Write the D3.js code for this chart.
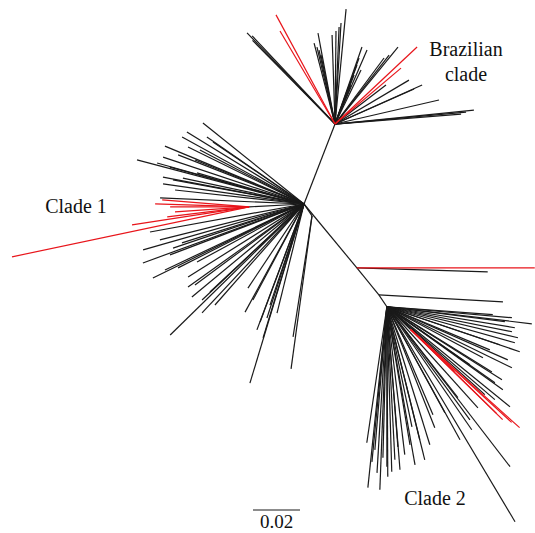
<!DOCTYPE html>
<html>
<head>
<meta charset="utf-8">
<script src="https://cdn.jsdelivr.net/npm/d3@7"></script>
<style>
  html, body { margin: 0; padding: 0; background: #fff; }
  #chart { width: 535px; height: 533px; }
</style>
</head>
<body>
<div id="chart"></div>
<script>
// internal nodes: [id, parent, angle (deg, clockwise from east), branch length]
const internalNodes = [
  ["B", "R", -68.8, 0.0365],
  ["S1", "R", 177, 0.0234],
  ["S2", "R", 56, 0.0061],
  ["N1", "R", 50.4, 0.0353],
  ["N2", "N1", 50.8, 0.0148],
  ["H2", "N2", 56, 0.0061],
  ["H2r", "H2", 43.8, 0.0140]
];

// leaves: [angle, branch length, group]  group 1 = highlighted isolates
const brazilianLeaves = [
  [-134.0, 0.0539, 0], [-133.2, 0.0515, 0], [-134.6, 0.0500, 0],
  [-118.4, 0.0528, 1], [-120.6, 0.0460, 1],
  [-104.5, 0.0356, 0], [-100.6, 0.0394, 0], [-103.2, 0.0336, 0], [-101.5, 0.0300, 0], [-102.2, 0.0322, 0],
  [-91.9, 0.0379, 0], [-89.4, 0.0396, 0], [-87.6, 0.0413, 0], [-86.6, 0.0431, 0], [-84.5, 0.0491, 0],
  [-70.7, 0.0347, 0], [-66.6, 0.0343, 0], [-68.8, 0.0224, 0], [-69.6, 0.0268, 0], [-70.0, 0.0299, 0],
  [-67.7, 0.0179, 0], [-64.3, 0.0255, 0],
  [-53.4, 0.0350, 0], [-51.9, 0.0373, 0], [-50.7, 0.0423, 0],
  [-43.2, 0.0479, 1], [-40.3, 0.0368, 1],
  [-37.4, 0.0273, 0], [-30.7, 0.0366, 0], [-24.1, 0.0406, 0], [-23.9, 0.0368, 0],
  [-13.0, 0.0454, 0], [-5.75, 0.0594, 0], [-5.2, 0.0560, 0], [-4.5, 0.0538, 0]
];

const clade1Leaves = [
  [-141.3, 0.0551, 0], [-148.4, 0.0585, 0], [-151.2, 0.0592, 0], [-145.4, 0.0502, 0], [-145.7, 0.0469, 0],
  [-157.4, 0.0641, 0], [-153.8, 0.0550, 0], [-165.2, 0.0735, 0], [-161.6, 0.0632, 0], [-158.7, 0.0575, 0],
  [-164.4, 0.0649, 0], [-169.2, 0.0611, 0], [-171.9, 0.0606, 0], [-169.6, 0.0567, 0], [-167.9, 0.0527, 0],
  [-163.8, 0.0474, 0], [-177.6, 0.0613, 0], [-164.6, 0.0592, 0], [-158.0, 0.0500, 0], [-152.6, 0.0499, 0],
  [-173.8, 0.0552, 0],
  [169.7, 0.0666, 0], [164.1, 0.0712, 0], [159.9, 0.0730, 0], [153.9, 0.0716, 0], [161.4, 0.0588, 0],
  [162.3, 0.0545, 0], [159.2, 0.0610, 0], [147.8, 0.0583, 0], [144.4, 0.0607, 0], [140.3, 0.0620, 0],
  [136.7, 0.0596, 0], [133.1, 0.0635, 0], [135.6, 0.0797, 0], [151.5, 0.0518, 0], [166.0, 0.0632, 0],
  [153.1, 0.0601, 0], [143.4, 0.0578, 0], [136.9, 0.0548, 0], [154.6, 0.0655, 0], [131.4, 0.0573, 0],
  [123.7, 0.0430, 0], [118.6, 0.0524, 0], [110.5, 0.0572, 0], [107.0, 0.0596, 0], [103.9, 0.0478, 0],
  [108.0, 0.0510, 0], [106.8, 0.0796, 0], [118.0, 0.0463, 0], [108.6, 0.0454, 0], [110.4, 0.0536, 0]
];

const clade1SubLeaves = [
  [168.1, 0.1031, 1], [171.3, 0.0504, 1], [-178.2, 0.0400, 1], [-175.4, 0.0371, 1],
  [173.0, 0.0351, 1], [180.0, 0.0336, 1], [176.1, 0.0316, 1]
];

const pairLeaves = [[98.9, 0.0521, 0], [97.8, 0.0657, 0]];

const stemLeavesN1 = [[1.7, 0.0557, 0], [0, 0.0757, 1]];
const stemLeavesN2 = [[3.2, 0.0529, 0]];

const clade2Leaves = [
  [6.7, 0.0621, 0], [4.3, 0.0452, 0], [5.0, 0.0534, 0], [9.3, 0.0552, 0], [11.3, 0.0543, 0],
  [13.3, 0.0573, 0], [15.7, 0.0566, 0], [18.7, 0.0597, 0], [28.0, 0.0463, 0], [26.0, 0.0592, 0],
  [31.8, 0.0526, 0], [32.4, 0.0580, 0], [35.6, 0.0607, 0], [39.1, 0.0675, 0], [35.1, 0.0562, 0],
  [48.0, 0.0579, 0], [52.0, 0.0491, 0], [66.9, 0.0500, 0], [7.2, 0.0506, 0], [18.6, 0.0507, 0],
  [22.7, 0.0475, 0], [23.7, 0.0562, 0], [34.9, 0.0431, 0], [41.9, 0.0560, 0], [40.7, 0.0606, 0],
  [53.7, 0.0597, 0], [55.4, 0.0636, 0], [61.3, 0.0514, 0], [52.4, 0.0859, 0], [61.2, 0.0646, 0],
  [59.2, 0.1065, 0],
  [68.4, 0.0554, 0], [76.1, 0.0671, 0], [78.2, 0.0522, 0], [83.1, 0.0634, 0], [85.5, 0.0598, 0],
  [88.3, 0.0702, 0], [90.0, 0.0681, 0], [89.7, 0.0723, 0], [92.2, 0.0779, 0], [93.4, 0.0708, 0],
  [95.5, 0.0663, 0], [96.0, 0.0774, 0], [98.4, 0.0585, 0], [76.1, 0.0583, 0], [79.9, 0.0683, 0],
  [85.4, 0.0696, 0], [91.5, 0.0643, 0], [94.8, 0.0611, 0], [87.0, 0.0652, 0], [72.7, 0.0615, 0],
  [80.5, 0.0596, 0]
];

const clade2SubLeaves = [
  [42.0, 0.0624, 1], [42.6, 0.0584, 1], [44.4, 0.0548, 1], [43.7, 0.0259, 1], [44.3, 0.0512, 1]
];

const leafSets = [
  ["B", brazilianLeaves], ["R", clade1Leaves], ["S1", clade1SubLeaves], ["S2", pairLeaves],
  ["N1", stemLeavesN1], ["N2", stemLeavesN2], ["H2", clade2Leaves], ["H2r", clade2SubLeaves]
];

const cladeLabels = [
  { lines: ["Brazilian", "clade"], x: 466, y: 56 },
  { lines: ["Clade 1"], x: 76, y: 213 },
  { lines: ["Clade 2"], x: 435, y: 505 }
];
const scaleBarValue = 0.02;

const width = 535, height = 533;
const root = { x: 304, y: 204 };

const dist = d3.scaleLinear().domain([0, 0.02]).range([0, 47]);
const color = d3.scaleOrdinal().domain([0, 1]).range(["#1a1a1a", "#e8151b"]);
const rad = d => d * Math.PI / 180;

const pos = { R: root };
const edges = [];
internalNodes.forEach(([id, parent, angle, len]) => {
  const p = pos[parent];
  const r = dist(len);
  pos[id] = { x: p.x + r * Math.cos(rad(angle)), y: p.y + r * Math.sin(rad(angle)) };
  edges.push({ x1: p.x, y1: p.y, x2: pos[id].x, y2: pos[id].y, group: 0 });
});
leafSets.forEach(([parent, leaves]) => {
  const p = pos[parent];
  leaves.forEach(([angle, len, group]) => {
    const r = dist(len);
    edges.push({ x1: p.x, y1: p.y, x2: p.x + r * Math.cos(rad(angle)), y2: p.y + r * Math.sin(rad(angle)), group });
  });
});
edges.sort((a, b) => a.group - b.group);

const svg = d3.select("#chart")
  .append("svg")
  .attr("width", width)
  .attr("height", height)
  .attr("viewBox", `0 0 ${width} ${height}`);

svg.append("g")
  .selectAll("line")
  .data(edges)
  .enter()
  .append("line")
  .attr("x1", d => d.x1)
  .attr("y1", d => d.y1)
  .attr("x2", d => d.x2)
  .attr("y2", d => d.y2)
  .attr("stroke", d => color(d.group))
  .attr("stroke-width", 1.2)
  .attr("stroke-linecap", "butt");

const labels = svg.append("g")
  .style("font-family", "'Liberation Serif', 'DejaVu Serif', serif")
  .style("font-size", "20px")
  .attr("fill", "#111");

cladeLabels.forEach(l => {
  const t = labels.append("text")
    .attr("x", l.x)
    .attr("y", l.y)
    .attr("text-anchor", "middle");
  l.lines.forEach((s, i) => {
    t.append("tspan").attr("x", l.x).attr("dy", i === 0 ? 0 : 25).text(s);
  });
});

// scale bar
const barX = 253, barY = 510;
svg.append("line")
  .attr("x1", barX)
  .attr("x2", barX + dist(scaleBarValue))
  .attr("y1", barY)
  .attr("y2", barY)
  .attr("stroke", "#1a1a1a")
  .attr("stroke-width", 1.2);

svg.append("text")
  .attr("x", barX + dist(scaleBarValue) / 2)
  .attr("y", barY + 18)
  .attr("text-anchor", "middle")
  .style("font-family", "'Liberation Serif', 'DejaVu Serif', serif")
  .style("font-size", "19px")
  .attr("fill", "#111")
  .text(d3.format(".2f")(scaleBarValue));
</script>
</body>
</html>
